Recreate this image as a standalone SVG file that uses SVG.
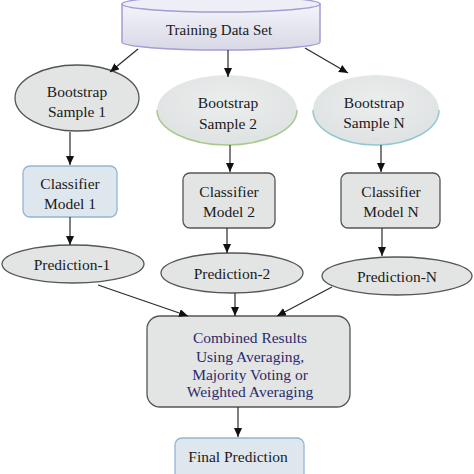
<svg xmlns="http://www.w3.org/2000/svg" width="474" height="474" viewBox="0 0 474 474">
<defs>
<style>
text{font-family:"Liberation Serif","Times New Roman",serif;font-size:15.5px;fill:#1a1a1a;text-anchor:middle}
.ell{fill:#e3e5e5;stroke:#555;stroke-width:1.3}
.box{fill:#e3e5e5;stroke:#555;stroke-width:1.3}
.bbox{fill:#dfe7ee;stroke:#93b5d4;stroke-width:1.3}
.conn line{stroke:#2a2a2a;stroke-width:1.2;marker-end:url(#ah)}
.navy{fill:#2b2b6b}
</style>
<marker id="ah" markerUnits="userSpaceOnUse" markerWidth="10" markerHeight="10" refX="9" refY="4" orient="auto">
<path d="M0,0 L9,4 L0,8 Z" fill="#111"/>
</marker>
<linearGradient id="cylg" x1="0" y1="0" x2="0" y2="1">
<stop offset="0" stop-color="#f4f4fa"/>
<stop offset="1" stop-color="#d8d8e6"/>
</linearGradient>
<radialGradient id="eg" cx="0.5" cy="0.4" r="0.6">
<stop offset="0" stop-color="#eceeee"/>
<stop offset="1" stop-color="#dfe2e2"/>
</radialGradient>
</defs>

<g id="training-data-set">
<path d="M122,4 L122,42 A99,8 0 0 0 320,42 L320,4 Z" fill="url(#cylg)" stroke="#a59bd6" stroke-width="1.5"/>
<ellipse cx="221" cy="4" rx="99" ry="8" fill="#eeeef6" stroke="#a59bd6" stroke-width="1.5"/>
<text x="219" y="35" style="font-size:15px">Training Data Set</text>
</g>

<g id="bootstrap-sample-1">
<ellipse class="ell" cx="77" cy="98" rx="62" ry="33"/>
<text x="77" y="97">Bootstrap</text>
<text x="77" y="117">Sample 1</text>
</g>

<g id="bootstrap-sample-2">
<ellipse cx="227" cy="110" rx="70" ry="35" fill="url(#eg)"/>
<path d="M157,110 A70,35 0 0 0 297,110" fill="none" stroke="#a9c98a" stroke-width="1.5"/>
<text x="228" y="108">Bootstrap</text>
<text x="228" y="129">Sample 2</text>
</g>

<g id="bootstrap-sample-n">
<ellipse cx="376" cy="110" rx="63" ry="35" fill="url(#eg)"/>
<path d="M313,110 A63,35 0 0 0 439,110" fill="none" stroke="#93c9d2" stroke-width="1.5"/>
<text x="374" y="108">Bootstrap</text>
<text x="374" y="128">Sample N</text>
</g>

<g id="classifier-model-1">
<rect class="bbox" x="23" y="166" width="94" height="51" rx="7"/>
<text x="70" y="189">Classifier</text>
<text x="70" y="209">Model 1</text>
</g>

<g id="classifier-model-2">
<rect class="box" x="183" y="173" width="92" height="55" rx="7"/>
<text x="229" y="197">Classifier</text>
<text x="229" y="217">Model 2</text>
</g>

<g id="classifier-model-n">
<rect class="box" x="341" y="173" width="99" height="55" rx="7"/>
<text x="391" y="197">Classifier</text>
<text x="391" y="217">Model N</text>
</g>

<g id="prediction-1">
<ellipse class="ell" cx="73" cy="264" rx="71" ry="19"/>
<text x="72" y="270">Prediction-1</text>
</g>

<g id="prediction-2">
<ellipse class="ell" cx="232" cy="273" rx="71" ry="20"/>
<text x="232" y="279">Prediction-2</text>
</g>

<g id="prediction-n">
<ellipse class="ell" cx="397" cy="276" rx="75" ry="19"/>
<text x="397" y="282">Prediction-N</text>
</g>

<g id="combined-results">
<rect class="box" x="147" y="316" width="203" height="91" rx="13"/>
<text class="navy" x="250" y="343">Combined Results</text>
<text class="navy" x="250" y="362">Using Averaging,</text>
<text class="navy" x="250" y="380">Majority Voting or</text>
<text class="navy" x="250" y="397">Weighted Averaging</text>
</g>

<g id="final-prediction">
<rect class="bbox" x="175" y="438" width="129" height="50" rx="7"/>
<text x="238" y="462">Final Prediction</text>
</g>

<g id="connectors" class="conn">
<line x1="138" y1="49" x2="110" y2="72"/>
<line x1="228" y1="50" x2="228" y2="77"/>
<line x1="305" y1="48" x2="348" y2="73"/>
<line x1="70" y1="132" x2="70" y2="165"/>
<line x1="230" y1="145" x2="230" y2="172"/>
<line x1="381" y1="145" x2="381" y2="172"/>
<line x1="70" y1="217" x2="70" y2="245"/>
<line x1="227" y1="228" x2="227" y2="253"/>
<line x1="382" y1="228" x2="382" y2="256"/>
<line x1="98" y1="285" x2="188" y2="316"/>
<line x1="235" y1="293" x2="235" y2="316"/>
<line x1="332" y1="287" x2="277" y2="316"/>
<line x1="238" y1="407" x2="238" y2="437"/>
</g>
</svg>
